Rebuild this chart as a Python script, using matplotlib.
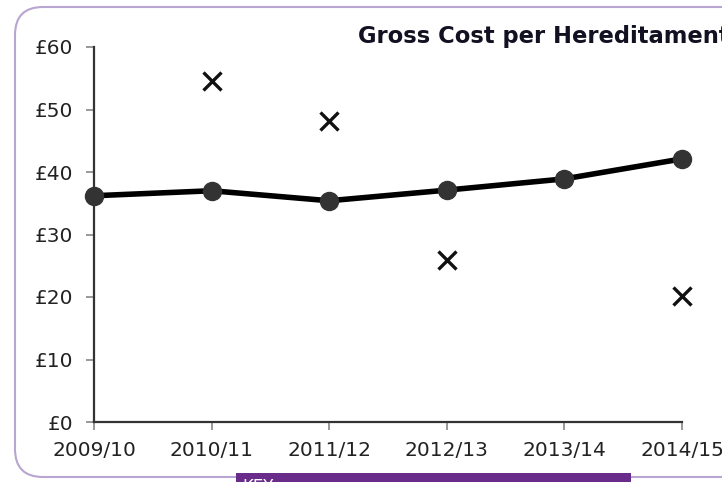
import matplotlib
matplotlib.use('Agg')
import matplotlib.pyplot as plt
from matplotlib.patches import FancyBboxPatch, Rectangle

# data
years = ['2009/10', '2010/11', '2011/12', '2012/13', '2013/14', '2014/15']
gross_cost = [36.2, 37.0, 35.4, 37.1, 38.9, 42.1]
cross_years = ['2010/11', '2011/12', '2012/13', '2014/15']
cross_values = [54.6, 48.2, 25.9, 20.2]
y_ticks = [0, 10, 20, 30, 40, 50, 60]
y_labels = ['£0', '£10', '£20', '£30', '£40', '£50', '£60']

W, H = 722, 482
fig = plt.figure(figsize=(W / 100, H / 100), dpi=100)
fig.patch.set_facecolor('white')

# background axes in pixel coordinates for the frame and the key strip
bg = fig.add_axes([0, 0, 1, 1], zorder=0)
bg.set_xlim(0, W)
bg.set_ylim(H, 0)
bg.axis('off')
frame = FancyBboxPatch((15, 7), 780, 470, boxstyle='round,pad=0,rounding_size=28',
                       facecolor='white', edgecolor='#b9a5d1', linewidth=1.5)
bg.add_patch(frame)
bg.add_patch(Rectangle((236, 473), 395, 20, facecolor='#6a2c8b', edgecolor='none'))
bg.text(242, 478.5, 'KEY:', color='white', fontsize=12, va='top', ha='left')

ax = fig.add_axes([94 / W, 1 - 422 / H, (682 - 94) / W, (422 - 47) / H], zorder=1)
ax.patch.set_alpha(0)

x = list(range(len(years)))
ax.plot(x, gross_cost, color='black', linewidth=4, marker='o', markersize=13,
        markerfacecolor='#333333', markeredgecolor='#333333', zorder=3, clip_on=False)
cx = [years.index(y) for y in cross_years]
ax.plot(cx, cross_values, linestyle='none', marker='x', markersize=13,
        markeredgewidth=2.4, color='#111111', zorder=3, clip_on=False)

ax.set_xlim(0, len(years) - 1)
ax.set_ylim(0, 60)
ax.set_xticks(x)
ax.set_xticklabels(years)
ax.set_yticks(y_ticks)
ax.set_yticklabels(y_labels)

for s in ['top', 'right']:
    ax.spines[s].set_visible(False)
for s in ['left', 'bottom']:
    ax.spines[s].set_color('#333333')
    ax.spines[s].set_linewidth(1.6)
ax.tick_params(axis='both', direction='out', length=6, width=1.4, color='#999999',
               labelsize=14.5, labelcolor='#222222')
ax.tick_params(axis='y', pad=9)
ax.tick_params(axis='x', pad=8)

fig.text(358 / W, 1 - 37 / H, 'Gross Cost per Hereditament', fontsize=16.3,
         fontweight='bold', color='#111122', ha='left', va='center')

fig.savefig('out.png', dpi=100)
